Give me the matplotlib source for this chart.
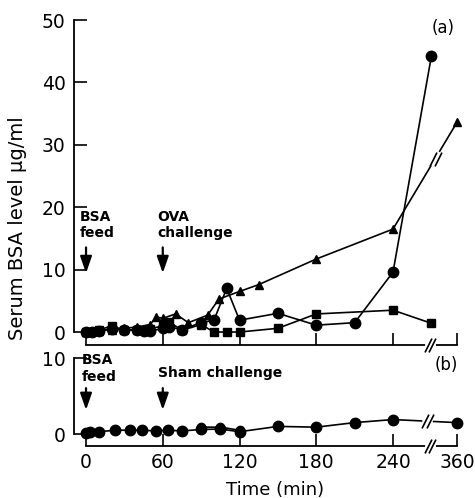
import numpy as np
import matplotlib
matplotlib.use('Agg')
import matplotlib.pyplot as plt

# time axis is broken after 240 min, 240-360 squeezed
BRK_T = [0, 240, 300, 360]
BRK_X = [0, 240, 270, 290]

# (a) OVA challenge
circ_t = [0, 5, 10, 20, 30, 40, 45, 50, 60, 65, 75, 90, 100, 110, 120, 150, 180, 210, 240, 300]
circ_v = [0, 0, 0.2, 0.5, 0.3, 0.3, 0.2, 0.1, 0.6, 0.8, 0.4, 1.5, 1.9, 7.0, 1.9, 3.0, 1.1, 1.5, 9.6, 44.2]
sq_t = [0, 10, 20, 30, 40, 50, 60, 65, 75, 90, 100, 110, 120, 150, 180, 240, 300]
sq_v = [0, 0.3, 1.0, 0.3, 0.4, 0.5, 1.0, 1.6, 0.3, 1.2, 0, 0, 0, 0.6, 2.9, 3.5, 1.4]
tri_t = [0, 10, 20, 30, 40, 50, 55, 60, 70, 80, 95, 104, 120, 135, 180, 240, 360]
tri_v = [0, 0.2, 0.4, 0.6, 0.8, 1.2, 2.4, 2.2, 2.9, 1.5, 2.7, 5.3, 6.5, 7.6, 11.7, 16.5, 33.6]

# (b) sham challenge
sham_t = [0, 3, 10, 23, 34, 44, 55, 64, 75, 90, 105, 120, 150, 180, 210, 240, 360]
sham_v = [0.1, 0.2, 0.3, 0.5, 0.5, 0.5, 0.4, 0.5, 0.4, 0.6, 0.65, 0.3, 1.0, 0.9, 1.5, 1.9, 1.5]
sham2_t = [90, 105, 120]
sham2_v = [0.9, 0.9, 0.5]

xtick_t = [0, 60, 120, 180, 240, 360]
xtick_lab = ['0', '60', '120', '180', '240', '360']


def tpos(t):
    return np.interp(t, BRK_T, BRK_X)


def brk(ax, x, xs, ys, size=10):
    # "//" break mark on a line (or spine) passing through points xs, ys
    y = np.interp(x, xs, ys)
    gx = np.array([x - 2.2, x + 2.2])
    ax.plot(gx, np.interp(gx, xs, ys), color='white', lw=3.5, zorder=4, clip_on=False)
    for dx in (-1.8, 1.8):
        ax.plot([x + dx], [y], marker=[(-1, -2), (1, 2)], ms=size, mew=1.2,
                color='black', zorder=5, clip_on=False)


plt.rcParams['font.family'] = ['DejaVu Sans']
fig = plt.figure(figsize=(4.75, 4.98), dpi=100)
ax1 = fig.add_axes([0.1558, 0.3072, 0.8337, 0.6526])
ax2 = fig.add_axes([0.1558, 0.1044, 0.8337, 0.1767])

for ax in (ax1, ax2):
    for s in ('top', 'right'):
        ax.spines[s].set_visible(False)
    for s in ('left', 'bottom'):
        ax.spines[s].set_linewidth(1.3)
    ax.spines['bottom'].set_bounds(0, tpos(360))
    ax.set_xlim(-9.4, 300.2)
    ax.set_xticks(tpos(xtick_t))
    ax.tick_params(direction='in', length=9, width=1.2, labelsize=13.5, pad=5)
    ax.tick_params(axis='y', pad=6)

ax1.set_ylim(-2.08, 50)
ax1.spines['left'].set_bounds(0, 50)
ax1.set_yticks([0, 10, 20, 30, 40, 50])
ax1.set_xticklabels([])
ax2.set_ylim(-1.58, 10)
ax2.spines['left'].set_bounds(0, 10)
ax2.set_yticks([0, 10])
ax2.set_xticklabels(xtick_lab)

kw = dict(color='black', lw=1.2, clip_on=False, zorder=3)
ax1.plot(tpos(sq_t), sq_v, marker='s', ms=5.5, **kw)
ax1.plot(tpos(tri_t), tri_v, marker='^', ms=5.5, **kw)
ax1.plot(tpos(circ_t), circ_v, marker='o', ms=7.5, **kw)
ax2.plot(tpos(sham2_t), sham2_v, marker='o', ms=6, **kw)
ax2.plot(tpos(sham_t), sham_v, marker='o', ms=7.5, **kw)

# break marks
bx = 269
brk(ax1, bx, [-9.4, 300], [-2.08, -2.08])
brk(ax2, bx, [-9.4, 300], [-1.58, -1.58])
brk(ax1, 273, tpos(tri_t[-2:]), tri_v[-2:])
brk(ax2, 267, tpos(sham_t[-2:]), sham_v[-2:])

# annotations
akw = dict(arrowstyle='-|>,head_length=1.0,head_width=0.35', color='black', lw=1.6)
tkw = dict(fontsize=10, fontweight='bold', va='top', ha='left', linespacing=1.25)
ax1.text(-4.7, 19.6, 'BSA\nfeed', **tkw)
ax1.text(56, 19.6, 'OVA\nchallenge', **tkw)
ax1.annotate('', xy=(0, 9.0), xytext=(0, 14.0), arrowprops=akw)
ax1.annotate('', xy=(60, 9.0), xytext=(60, 14.0), arrowprops=akw)
ax1.text(279, 48.7, '(a)', fontsize=12, ha='center', va='center')

ax2.text(-3, 10.6, 'BSA\nfeed', **tkw)
ax2.text(56, 8.9, 'Sham challenge', **tkw)
ax2.annotate('', xy=(0, 2.8), xytext=(0, 6.4), arrowprops=akw)
ax2.annotate('', xy=(60, 2.8), xytext=(60, 6.4), arrowprops=akw)
ax2.text(282, 9.1, '(b)', fontsize=12, ha='center', va='center')

fig.text(0.036, 1 - 228 / 498, 'Serum BSA level µg/ml', rotation=90,
         fontsize=14, ha='center', va='center')
fig.text(0.579, 1 - 490 / 498, 'Time (min)', fontsize=13, ha='center', va='center')

fig.savefig('out.png', dpi=100)
